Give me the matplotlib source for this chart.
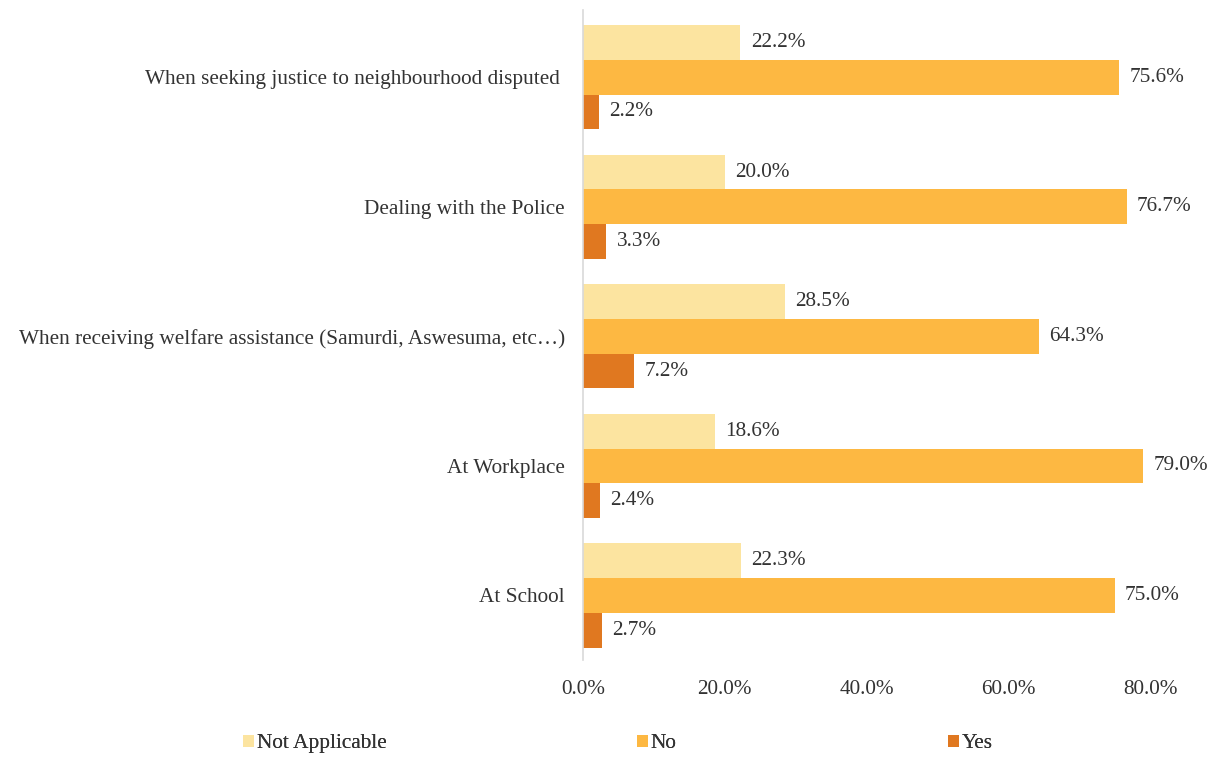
import numpy as np
import matplotlib.pyplot as plt
from matplotlib.patches import Patch

plt.rcParams['font.family'] = ['Liberation Serif', 'DejaVu Serif']

# Survey responses by situation (percent)
situations = [
    "When seeking justice to neighbourhood disputed ",
    "Dealing with the Police",
    "When receiving welfare assistance (Samurdi, Aswesuma, etc\u2026)",
    "At Workplace",
    "At School",
]
not_applicable = [22.2, 20.0, 28.5, 18.6, 22.3]
no = [75.6, 76.7, 64.3, 79.0, 75.0]
yes = [2.2, 3.3, 7.2, 2.4, 2.7]

series = [
    ("Not Applicable", not_applicable, "#FCE4A0"),
    ("No", no, "#FDB842"),
    ("Yes", yes, "#E07820"),
]

txt = '#333333'
fs = 15.3

fig = plt.figure(figsize=(12.07, 7.58), dpi=100)
ax = fig.add_axes([0.483, 0.129, 0.4698, 0.858])

y = np.arange(len(situations))
h = 0.268
offsets = [-h, 0, h]

for (name, vals, color), off in zip(series, offsets):
    bars = ax.barh(y + off, vals, height=h, color=color, label=name)
    for b, v in zip(bars, vals):
        ax.annotate(f"{v:.1f}%", (b.get_width(), b.get_y() + b.get_height() / 2),
                    xytext=(7.5, 0), textcoords='offset points',
                    va='center', ha='left', fontsize=fs, color=txt)

ax.set_ylim(4.5, -0.52)
ax.set_xlim(0, 80)
ax.set_xticks([0, 20, 40, 60, 80])
ax.set_xticklabels([f"{t:.1f}%" for t in [0, 20, 40, 60, 80]])
ax.set_yticks(y)
ax.set_yticklabels(situations)

for s in ['top', 'right', 'bottom']:
    ax.spines[s].set_visible(False)
ax.spines['left'].set_color('#D9D9D9')
ax.spines['left'].set_linewidth(1.2)
ax.tick_params(axis='both', length=0, labelsize=fs, colors=txt)
ax.tick_params(axis='y', pad=13)
ax.tick_params(axis='x', pad=14)

# legend entries spread across the bottom, one legend per entry
legend_x = [0.2013, 0.5278, 0.7854]
for (name, _, color), lx in zip(series, legend_x):
    leg = fig.legend(handles=[Patch(facecolor=color, edgecolor='none', label=name)],
                     loc='center left', bbox_to_anchor=(lx, 0.0185), frameon=False,
                     fontsize=fs, handlelength=0.5, handleheight=0.5,
                     handletextpad=0.15, borderpad=0, borderaxespad=0)
    for t in leg.get_texts():
        t.set_color(txt)
    fig.add_artist(leg)

fig.savefig('out.png', dpi=100)
